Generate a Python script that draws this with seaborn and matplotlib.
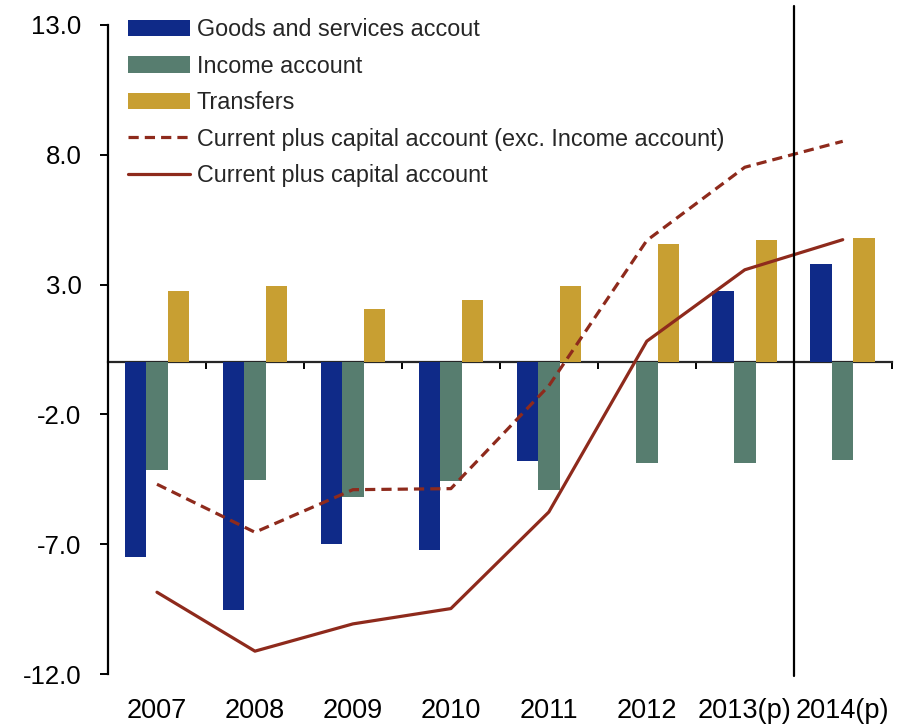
import numpy as np
import pandas as pd
import matplotlib
matplotlib.use("Agg")
import matplotlib.pyplot as plt
import seaborn as sns

# Balance of payments components, % of GDP
years = ["2007", "2008", "2009", "2010", "2011", "2012", "2013(p)", "2014(p)"]
goods_services = [-7.50, -9.53, -7.01, -7.22, -3.81, 0.0, 2.75, 3.78]
income = [-4.16, -4.51, -5.19, -4.55, -4.90, -3.88, -3.88, -3.75]
transfers = [2.76, 2.95, 2.07, 2.42, 2.95, 4.57, 4.73, 4.80]
cur_cap_exc_income = [-4.69, -6.54, -4.90, -4.86, -0.90, 4.70, 7.52, 8.52]
cur_cap = [-8.85, -11.12, -10.07, -9.48, -5.76, 0.82, 3.57, 4.73]

series_names = ["Goods and services accout", "Income account", "Transfers"]
line_names = ["Current plus capital account (exc. Income account)",
              "Current plus capital account"]
y_ticks = [-12.0, -7.0, -2.0, 3.0, 8.0, 13.0]

bar_colors = ["#0F2A88", "#577D6F", "#C89F32"]
line_color = "#8E2A1C"

sns.set_style("white")
plt.rcParams["font.family"] = ["Liberation Sans", "DejaVu Sans"]

bars = pd.DataFrame({
    "year": np.repeat(years, 3),
    "series": series_names * len(years),
    "value": np.ravel(np.column_stack([goods_services, income, transfers])),
})

fig = plt.figure(figsize=(9.05, 7.24), dpi=100)
ax = fig.add_axes([108 / 905, 1 - 674 / 724, (891.7 - 108) / 905, (674 - 25) / 724])

sns.barplot(data=bars, x="year", y="value", hue="series", order=years,
            hue_order=series_names, palette=bar_colors, width=0.66,
            saturation=1, errorbar=None, ax=ax, linewidth=0)

pos = np.arange(len(years))
sns.lineplot(x=pos, y=cur_cap_exc_income, ax=ax, color=line_color, lw=2.3,
             linestyle=(0, (3.2, 1.9)), label=line_names[0])
sns.lineplot(x=pos, y=cur_cap, ax=ax, color=line_color, lw=2.3,
             label=line_names[1])

ax.set_xlim(-0.5, len(years) - 0.5)
ax.set_ylim(-12, 13)
ax.set_yticks(y_ticks)
ax.set_yticklabels([f"{v:.1f}" for v in y_ticks])
ax.set_xlabel("")
ax.set_ylabel("")

for side in ["top", "right", "bottom"]:
    ax.spines[side].set_visible(False)
ax.spines["left"].set_linewidth(1.6)
ax.spines["left"].set_color("black")

ax.tick_params(axis="y", direction="out", length=6, width=1.4, colors="black",
               labelsize=18.5, pad=13, left=True)
ax.tick_params(axis="x", length=0, labelsize=19.5, pad=17, colors="black")

# zero axis with category boundary ticks
zero_ax = ax.secondary_xaxis(0, transform=ax.transData)
zero_ax.spines["bottom"].set_linewidth(1.6)
zero_ax.set_xticks(pos + 0.5)
zero_ax.tick_params(direction="out", length=5, width=1.4, labelbottom=False,
                    colors="black")

# projection divider
ax.axvline(len(years) - 1.5, ymin=-0.003, ymax=1.029, color="black", lw=1.6,
           clip_on=False)

handles, labels = ax.get_legend_handles_labels()
order = [labels.index(n) for n in series_names + line_names]
ax.legend([handles[i] for i in order], [labels[i] for i in order],
          loc="upper left", bbox_to_anchor=(128 / 905, 1 - 18 / 724),
          bbox_transform=fig.transFigure, frameon=False, fontsize=16.8,
          handlelength=2.66, handletextpad=0.28, labelspacing=0.58,
          borderpad=0, borderaxespad=0)

fig.savefig("out.png", dpi=100)
